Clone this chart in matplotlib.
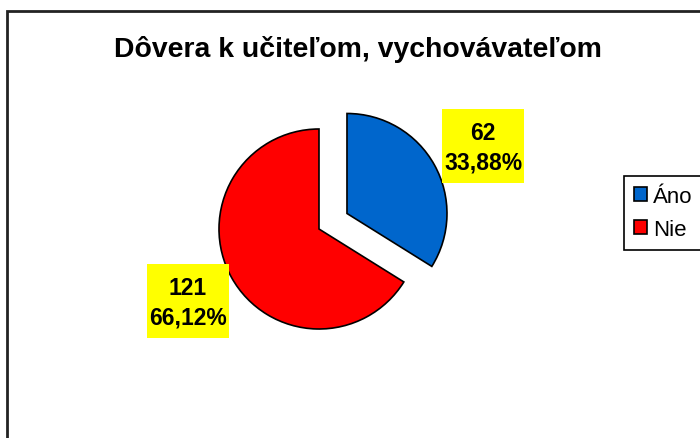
import matplotlib
matplotlib.use("Agg")
from matplotlib import pyplot as plt
from matplotlib.patches import Rectangle

plt.rcParams['font.family'] = ['Liberation Sans', 'DejaVu Sans']

title = "Dôvera k učiteľom, vychovávateľom"
categories = ["Áno", "Nie"]
counts = [62, 121]
percents = ["33,88%", "66,12%"]
colors = ["#0066CC", "#FF0000"]

W, H = 700, 439
fig = plt.figure(figsize=(7, 4.39), dpi=100)
ax = fig.add_axes([0, 0, 1, 1])

# chart area frame (runs off right and bottom)
ax.add_patch(Rectangle((7, -20), 800, H - 12 + 20, fill=False,
                       edgecolor="#222222", linewidth=2))

# explode is in data units here (pixels)
wedges, _ = ax.pie(counts, colors=colors, startangle=90, counterclock=False,
                   center=(319, H - 230), radius=100, explode=[32, 0],
                   wedgeprops=dict(edgecolor="black", linewidth=1.2))
ax.set_xlim(0, W)
ax.set_ylim(0, H)
ax.set_aspect("equal")
ax.axis("off")

label_pos = [(483, H - 147), (188, H - 302)]
for (x, y), n, p in zip(label_pos, counts, percents):
    ax.add_patch(Rectangle((x - 41, y - 37), 82, 74, facecolor="#FFFF00",
                           edgecolor="none", zorder=3))
    ax.text(x, y - 1, "{}\n{}".format(n, p), ha="center", va="center",
            fontsize=16.5, fontweight="bold", linespacing=1.35, zorder=4)

ax.text(358, H - 49, title, ha="center", va="center", fontsize=20.4,
        fontweight="bold")

leg = ax.legend(wedges, categories, loc="upper left",
                bbox_to_anchor=(624 / W, 1 - 177 / H), borderaxespad=0,
                fontsize=16, handlelength=0.6, handleheight=0.6,
                handletextpad=0.25, labelspacing=0.55, borderpad=0.45,
                fancybox=False, framealpha=1)
leg.get_frame().set_edgecolor("black")
leg.get_frame().set_linewidth(1.2)

fig.savefig("out.png", dpi=100)
